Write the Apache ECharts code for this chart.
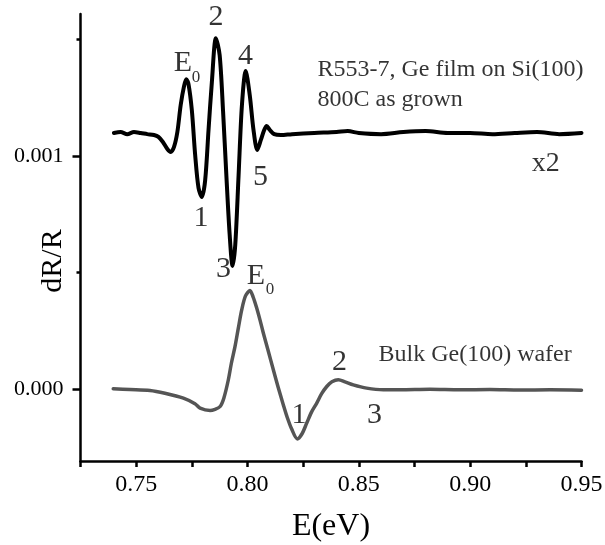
<!DOCTYPE html>
<html>
<head>
<meta charset="utf-8">
<script src="https://cdn.jsdelivr.net/npm/echarts@6/dist/echarts.min.js"></script>
<style>
html, body { margin: 0; padding: 0; background: #fff; }
#main { width: 605px; height: 545px; }
</style>
</head>
<body>
<div id="main"></div>
<script>
// Ge 薄膜 (R553-7, x2) 的 dR/R 谱
var filmE = [0.740, 0.743, 0.746, 0.749, 0.752, 0.755, 0.758, 0.760, 0.762, 0.764,
    0.7655, 0.767, 0.7685, 0.770, 0.7715, 0.7725, 0.7735, 0.775, 0.7765, 0.778,
    0.7795, 0.781, 0.7825, 0.784, 0.7858, 0.7875, 0.789, 0.7905, 0.792, 0.7933,
    0.7945, 0.796, 0.7975, 0.7992, 0.801, 0.8027, 0.8044, 0.806, 0.8075, 0.8086,
    0.810, 0.812, 0.815, 0.820, 0.830, 0.840, 0.845, 0.850, 0.860, 0.870,
    0.880, 0.890, 0.900, 0.910, 0.920, 0.930, 0.940, 0.950]
var filmR = [0.001099, 0.001103, 0.001094, 0.001103, 0.001099, 0.001094, 0.001090, 0.001082, 0.001060, 0.001030,
    0.001017, 0.001039, 0.001103, 0.001219, 0.001300, 0.001330, 0.001309, 0.001197, 0.001004, 0.000863,
    0.000824, 0.000897, 0.001112, 0.001318, 0.001506, 0.001433, 0.001197, 0.000918, 0.000661, 0.000528,
    0.000618, 0.000918, 0.001219, 0.001365, 0.001262, 0.001112, 0.001026, 0.001069, 0.001112, 0.001129,
    0.001112, 0.001094, 0.001090, 0.001094, 0.001099, 0.001103, 0.001107, 0.001099, 0.001094, 0.001103,
    0.001107, 0.001099, 0.001099, 0.001094, 0.001099, 0.001103, 0.001094, 0.001099]

// 体 Ge(100) 晶片
var bulkE = [0.7397, 0.7472, 0.7562, 0.7629, 0.7712, 0.7764, 0.7787, 0.7832, 0.7854, 0.7877,
    0.7894, 0.7914, 0.7928, 0.7944, 0.7959, 0.7974, 0.7991, 0.8011, 0.8025, 0.8041,
    0.8056, 0.8071, 0.8092, 0.8116, 0.8137, 0.8161, 0.8179, 0.8198, 0.8224, 0.8245,
    0.8266, 0.8288, 0.8311, 0.8333, 0.8356, 0.8379, 0.8408, 0.8438, 0.8475, 0.8535,
    0.8610, 0.8685, 0.8819, 0.8954, 0.9089, 0.9223, 0.9358, 0.9500]
var bulkR = [0.000000, -0.000003, -0.000007, -0.000019, -0.000040, -0.000064, -0.000083, -0.000093, -0.000088, -0.000076,
    -0.000039, 0.000039, 0.000112, 0.000182, 0.000262, 0.000339, 0.000399, 0.000422, 0.000395, 0.000348,
    0.000296, 0.000240, 0.000167, 0.000082, 0.000009, -0.000069, -0.000124, -0.000172, -0.000215, -0.000193,
    -0.000147, -0.000099, -0.000061, -0.000021, 0.000010, 0.000030, 0.000039, 0.000030, 0.000017, 0.000003,
    -0.000004, -0.000004, -0.000002, -0.000004, -0.000003, -0.000005, -0.000004, -0.000006]

// 刻度
var xStep = 0.025          // 刻度间隔 (0.725 是它的整数倍)
var xLabelStep = 0.05      // 只在这些位置标数字
var yTicks = [0.000, 0.001]
var yMinor = [0.0005, 0.0015]

// 图中标注: [E, dR/R, 文字, 类型]
var notes = [
    [0.7710, 0.001399, 'E', 'peak'],
    [0.7769, 0.001335, '0', 'sub'],
    [0.7858, 0.001597, '2', 'peak'],
    [0.7991, 0.001429, '4', 'peak'],
    [0.7791, 0.000734, '1', 'peak'],
    [0.7892, 0.000515, '3', 'peak'],
    [0.8058, 0.000908, '5', 'peak'],
    [0.8038, 0.000485, 'E', 'peak'],
    [0.8101, 0.000425, '0', 'sub'],
    [0.8231, -0.000112, '1', 'peak'],
    [0.8413, 0.000116, '2', 'peak'],
    [0.8570, -0.000112, '3', 'peak'],
    [0.9340, 0.000966, 'x2', 'mark'],
    [0.8312, 0.001371, 'R553-7, Ge film on Si(100)', 'text'],
    [0.8312, 0.001242, '800C as grown', 'text'],
    [0.8586, 0.000148, 'Bulk Ge(100) wafer', 'text']
]

var FONT = '"Liberation Serif", "Times New Roman", serif'
var noteStyle = {
    peak: { fontSize: 30, position: 'inside' },
    mark: { fontSize: 28, position: 'inside' },
    sub: { fontSize: 17, position: 'inside' },
    text: { fontSize: 24, position: 'right', distance: 0 }
}

function pairs(xs, ys) {
    return xs.map(function (x, i) { return [x, ys[i]] })
}

var noteData = notes.map(function (n) {
    var st = noteStyle[n[3]]
    return {
        value: [n[0], n[1]],
        label: {
            show: true,
            formatter: n[2],
            position: st.position,
            distance: st.distance || 0,
            fontSize: st.fontSize,
            fontFamily: FONT,
            color: '#000'
        }
    }
})

var myChart = echarts.init(document.getElementById('main'))

var axisY = {
    type: 'value', min: -0.00031, max: 0.00161, gridIndex: 0, position: 'left'
}

var option = {
    animation: false,
    backgroundColor: '#fff',
    grid: { left: 80.5, right: 23.5, top: 14, bottom: 84, outerBoundsMode: 'none' },
    xAxis: {
        type: 'value', min: 0.725, max: 0.95, interval: xStep,
        name: 'E(eV)',
        nameLocation: 'middle',
        nameGap: 50,
        nameTextStyle: { fontFamily: FONT, fontSize: 32, color: '#000' },
        axisLine: { show: true, onZero: false, lineStyle: { color: '#000', width: 2.5 } },
        axisTick: { show: true, length: 6, lineStyle: { color: '#000', width: 2.5 } },
        axisLabel: {
            margin: 12,
            showMinLabel: true, showMaxLabel: true,
            fontFamily: FONT, fontSize: 24, color: '#000',
            formatter: function (v) {
                var k = v / xLabelStep
                return Math.abs(k - Math.round(k)) < 1e-6 ? v.toFixed(2) : ''
            }
        },
        splitLine: { show: false }
    },
    yAxis: [
        Object.assign({}, axisY, {
            axisLine: { show: true, onZero: false, lineStyle: { color: '#000', width: 2.5 } },
            axisTick: { show: true, length: 8, lineStyle: { color: '#000', width: 2.5 }, customValues: yTicks },
            axisLabel: {
                customValues: yTicks,
                margin: 17,
                fontFamily: FONT, fontSize: 22, color: '#000',
                formatter: function (v) { return v.toFixed(3) }
            },
            splitLine: { show: false }
        }),
        // 次刻度
        Object.assign({}, axisY, {
            axisLine: { show: false, onZero: false },
            axisTick: { show: true, length: 4, lineStyle: { color: '#000', width: 2.5 }, customValues: yMinor },
            axisLabel: { show: false },
            splitLine: { show: false }
        })
    ],
    graphic: [{
        type: 'text',
        x: 53, y: 261,
        rotation: Math.PI / 2,
        style: {
            text: 'dR/R',
            fontFamily: FONT, fontSize: 30, fill: '#000',
            textAlign: 'center', textVerticalAlign: 'middle'
        }
    }],
    series: [
        {
            name: 'film',
            type: 'line',
            data: pairs(filmE, filmR),
            showSymbol: false,
            smooth: 0.3,
            lineStyle: { color: '#000', width: 4, cap: 'round', join: 'round' }
        },
        {
            name: 'bulk',
            type: 'line',
            data: pairs(bulkE, bulkR),
            showSymbol: false,
            smooth: 0.3,
            lineStyle: { color: '#555', width: 3.5, cap: 'round', join: 'round' }
        },
        {
            name: 'notes',
            type: 'scatter',
            data: noteData,
            symbolSize: 1,
            itemStyle: { color: 'rgba(0,0,0,0)' },
            silent: true
        }
    ]
}

myChart.setOption(option)
window.addEventListener('resize', function () { myChart.resize() })
</script>
</body>
</html>
